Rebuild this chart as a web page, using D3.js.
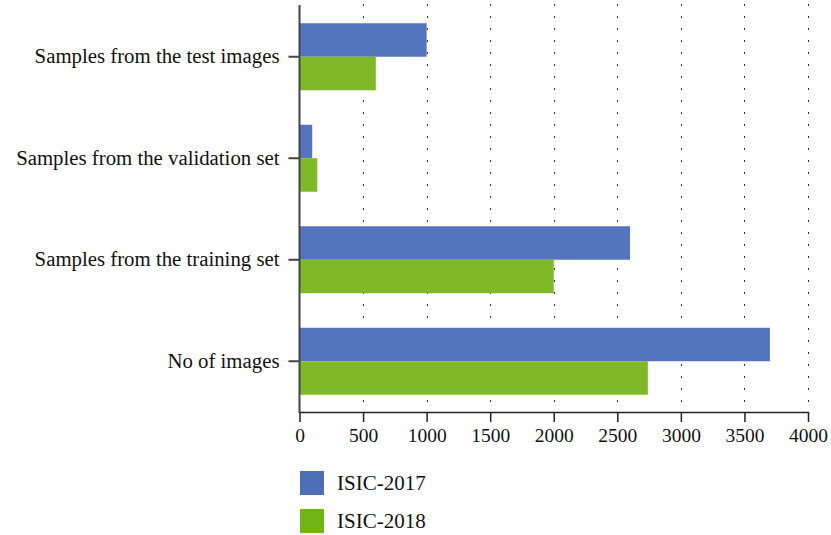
<!DOCTYPE html>
<html><head><meta charset="utf-8">
<script src="https://cdn.jsdelivr.net/npm/d3@7"></script>
<style>body{margin:0;background:#fff}svg{display:block}text{font-family:"Liberation Serif","Times New Roman",serif;fill:#111}</style>
</head><body><svg id="c" width="831" height="535"></svg>
<script>
const categories = ["Samples from the test images","Samples from the validation set","Samples from the training set","No of images"];
const series = ["ISIC-2017","ISIC-2018"];
const isic2017 = [1000, 100, 2600, 3700];
const isic2018 = [600, 140, 2000, 2740];
const xTicks = [0,500,1000,1500,2000,2500,3000,3500,4000];
const barColors = ["#5475BD","#80B927"];
const legendColors = ["#4F6EB8","#70B514"];

const svg = d3.select("#c");
const x = d3.scaleLinear().domain([0,4000]).range([299.5,808]);
const y = d3.scaleBand().domain(categories).range([6,412]).paddingInner(0.34).paddingOuter(0.17);
const sub = d3.scaleBand().domain(series).range([0,y.bandwidth()]);

// dotted gridlines
const grid = svg.append("g");
xTicks.slice(1).forEach(t=>{
  grid.append("line").attr("x1",Math.round(x(t))+0.5).attr("x2",Math.round(x(t))+0.5)
    .attr("y1",4).attr("y2",412).attr("stroke","#333").attr("stroke-width",1)
    .attr("stroke-dasharray","2,10");
});

const data = categories.map((c,i)=>({c, v:[isic2017[i], isic2018[i]]}));
const g = svg.append("g");
data.forEach(d=>{
  series.forEach((s,j)=>{
    g.append("rect").attr("x",x(0)).attr("y",y(d.c)+sub(s))
      .attr("width",x(d.v[j])-x(0)).attr("height",sub.bandwidth()).attr("fill",barColors[j]);
  });
});

// x axis
const xa = svg.append("g").attr("transform","translate(0,412)")
  .call(d3.axisBottom(x).tickValues(xTicks).tickSize(10).tickPadding(6).tickFormat(d3.format("d")));
xa.selectAll("path,line").attr("stroke","#222").attr("stroke-width",1.5);
xa.select(".domain").attr("d","M"+x(0)+",0.5H"+(x(4000)+1));
xa.selectAll("text").attr("font-size",19.5).style("font-family","Liberation Serif, serif").attr("fill","#111");

// y axis
const ya = svg.append("g").attr("transform","translate("+x(0)+",0)")
  .call(d3.axisLeft(y).tickSize(11).tickPadding(9));
ya.selectAll("path,line").attr("stroke","#444").attr("stroke-width",2);
ya.select(".domain").attr("d","M0,5V413");
ya.selectAll("text").attr("font-size",20.8).style("font-family","Liberation Serif, serif").attr("fill","#111");

// legend
const lg = svg.append("g");
series.forEach((s,j)=>{
  lg.append("rect").attr("x",300).attr("y",471+j*38).attr("width",24).attr("height",24).attr("fill",legendColors[j]);
  lg.append("text").attr("x",337).attr("y",483+j*38).attr("dy","0.35em").attr("font-size",21).text(s);
});
</script></body></html>
